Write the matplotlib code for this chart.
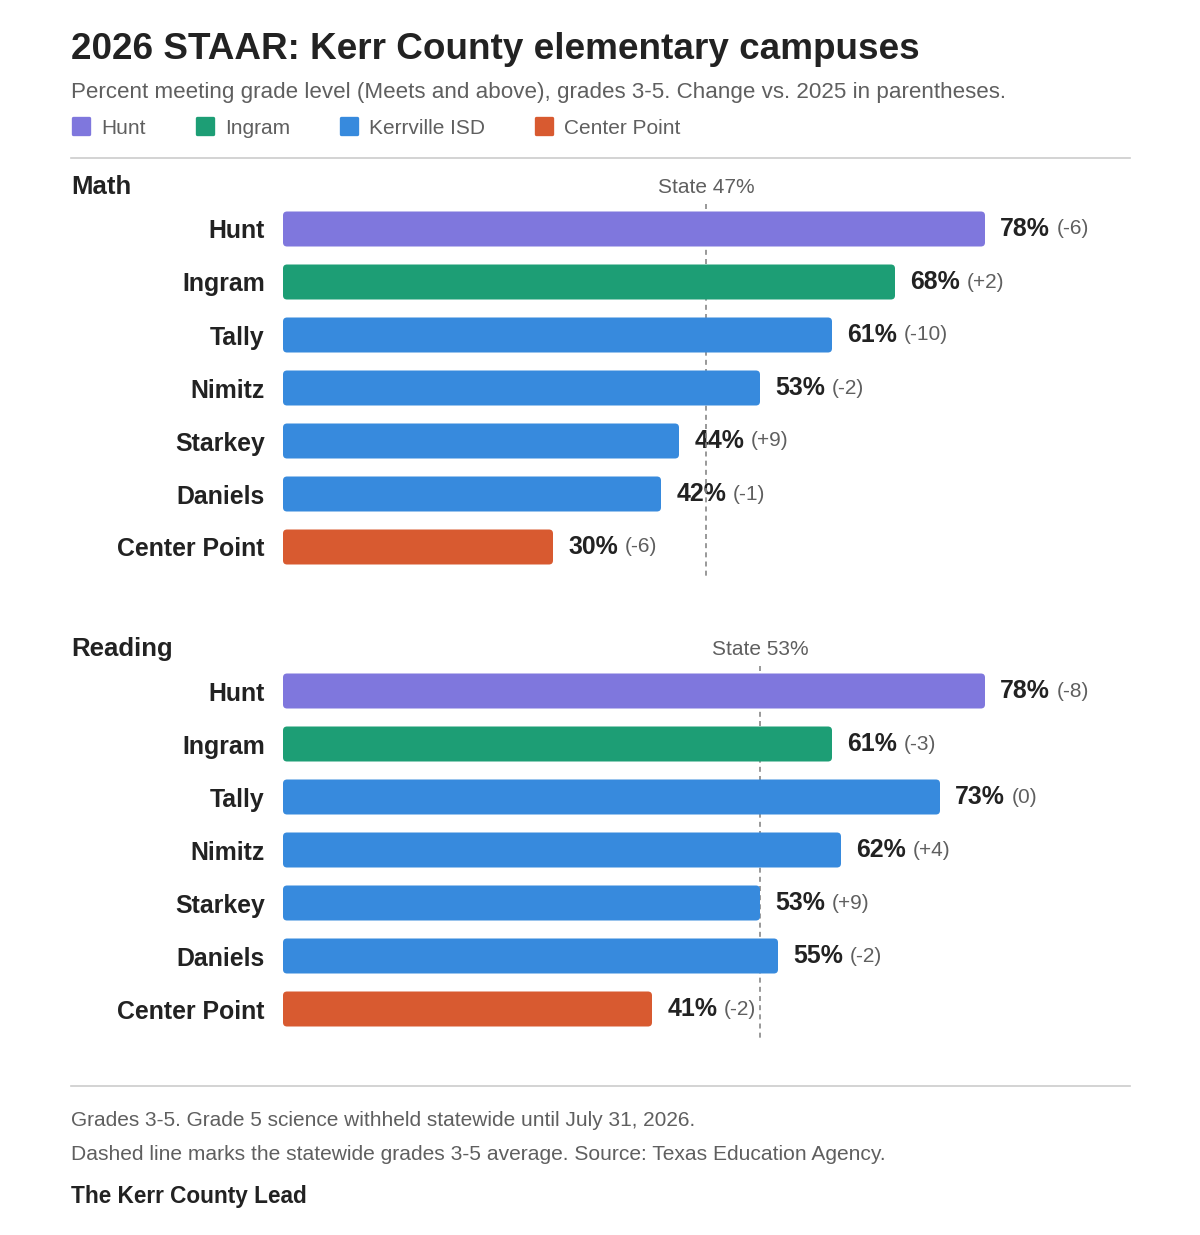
import matplotlib.pyplot as plt
from matplotlib.lines import Line2D
from matplotlib.markers import MarkerStyle
from matplotlib.patches import FancyBboxPatch

plt.rcParams['font.family'] = ['Liberation Sans', 'DejaVu Sans']

# data
campuses = ["Hunt", "Ingram", "Tally", "Nimitz", "Starkey", "Daniels", "Center Point"]
districts = ["Hunt", "Ingram", "Kerrville ISD", "Kerrville ISD", "Kerrville ISD", "Kerrville ISD", "Center Point"]
math_pct = [78, 68, 61, 53, 44, 42, 30]
math_chg = ["-6", "+2", "-10", "-2", "+9", "-1", "-6"]
reading_pct = [78, 61, 73, 62, 53, 55, 41]
reading_chg = ["-8", "-3", "0", "+4", "+9", "-2", "-2"]
state_math = 47
state_reading = 53

legend_names = ["Hunt", "Ingram", "Kerrville ISD", "Center Point"]
colors = {"Hunt": "#7F77DD", "Ingram": "#1D9E75", "Kerrville ISD": "#378ADD", "Center Point": "#D85A30"}

DARK = "#222222"
GRAY = "#5f5f5f"
W, H = 1200, 1235


def fx(px):
    return px / W


def fy(py):
    return 1 - py / H


fig = plt.figure(figsize=(12, 12.35), dpi=100)

fig.text(fx(71), fy(59), "2026 STAAR: Kerr County elementary campuses", fontsize=26.6,
         fontweight="bold", color=DARK, va="baseline")
fig.text(fx(71), fy(98), "Percent meeting grade level (Meets and above), grades 3-5. Change vs. 2025 in parentheses.",
         fontsize=16.1, color=GRAY, va="baseline")

# rounded squares for the legend keys
sq = MarkerStyle("s", joinstyle="round")
handles = [Line2D([], [], marker=sq, ls="", color=colors[n], markersize=12, markeredgewidth=2.4)
           for n in legend_names]
fig.legend(handles, legend_names, ncol=4, loc="center left", bbox_to_anchor=(fx(71), fy(128)),
           frameon=False, fontsize=15, labelcolor=GRAY, handlelength=0.95, handletextpad=0.5,
           columnspacing=2.35, borderpad=0, borderaxespad=0)

fig.add_artist(Line2D([fx(71), fx(1130)], [fy(158), fy(158)], color="#cccccc", lw=1.2))
fig.add_artist(Line2D([fx(71), fx(1130)], [fy(1086), fy(1086)], color="#cccccc", lw=1.2))


def panel(top_center, title, pcts, chgs, state):
    row = 53
    top = top_center - row / 2
    ax = fig.add_axes([fx(283), fy(top + 7 * row), 900 / W, 7 * row / H])
    ys = list(range(len(campuses)))
    bars = ax.barh(ys, pcts, height=35 / row, color=[colors[d] for d in districts])
    # swap plain rectangles for rounded ones of the same geometry
    for b in bars:
        b.set_visible(False)
        ax.add_patch(FancyBboxPatch((b.get_x(), b.get_y()), b.get_width(), b.get_height(),
                                    boxstyle="round,pad=0,rounding_size=0.45", mutation_aspect=9 / row,
                                    fc=b.get_facecolor(), ec="none", zorder=3))
    ax.set_xlim(0, 100)
    ax.set_ylim(len(campuses) - 0.5, -0.5)
    ax.set_xticks([])
    ax.set_yticks(ys, labels=campuses, fontsize=17.9, fontweight="bold", color=DARK)
    ax.tick_params(axis="y", length=0, pad=13)
    for s in ax.spines.values():
        s.set_visible(False)

    ax.vlines(state, -0.47, 6.585, colors="#888888", lw=1.2, linestyles=(0, (3, 2.5)),
              zorder=2, clip_on=False)
    ax.text(state, -0.68, f"State {state}%", ha="center", va="baseline", fontsize=15,
            color=GRAY, clip_on=False)

    for y, v, c in zip(ys, pcts, chgs):
        t = ax.annotate(f"{v}%", xy=(v, y), xytext=(11, 0), textcoords="offset points",
                        ha="left", va="center", fontsize=17.9, fontweight="bold", color=DARK, zorder=1)
        ax.annotate(f"({c})", xy=(1, 0.5), xycoords=t, xytext=(5, 0), textcoords="offset points",
                    ha="left", va="center", fontsize=15, color=GRAY, zorder=1)

    fig.text(fx(71), fy(top_center - 35), title, fontsize=18.5, fontweight="bold", color=DARK,
             va="baseline")
    return ax


panel(229, "Math", math_pct, math_chg, state_math)
panel(691, "Reading", reading_pct, reading_chg, state_reading)

fig.text(fx(71), fy(1126), "Grades 3-5. Grade 5 science withheld statewide until July 31, 2026.",
         fontsize=15, color=GRAY, va="baseline")
fig.text(fx(71), fy(1160), "Dashed line marks the statewide grades 3-5 average. Source: Texas Education Agency.",
         fontsize=15.1, color=GRAY, va="baseline")
fig.text(fx(71), fy(1203), "The Kerr County Lead", fontsize=16.3, fontweight="bold", color=DARK,
         va="baseline")

fig.savefig("out.png", dpi=100, facecolor="white")
